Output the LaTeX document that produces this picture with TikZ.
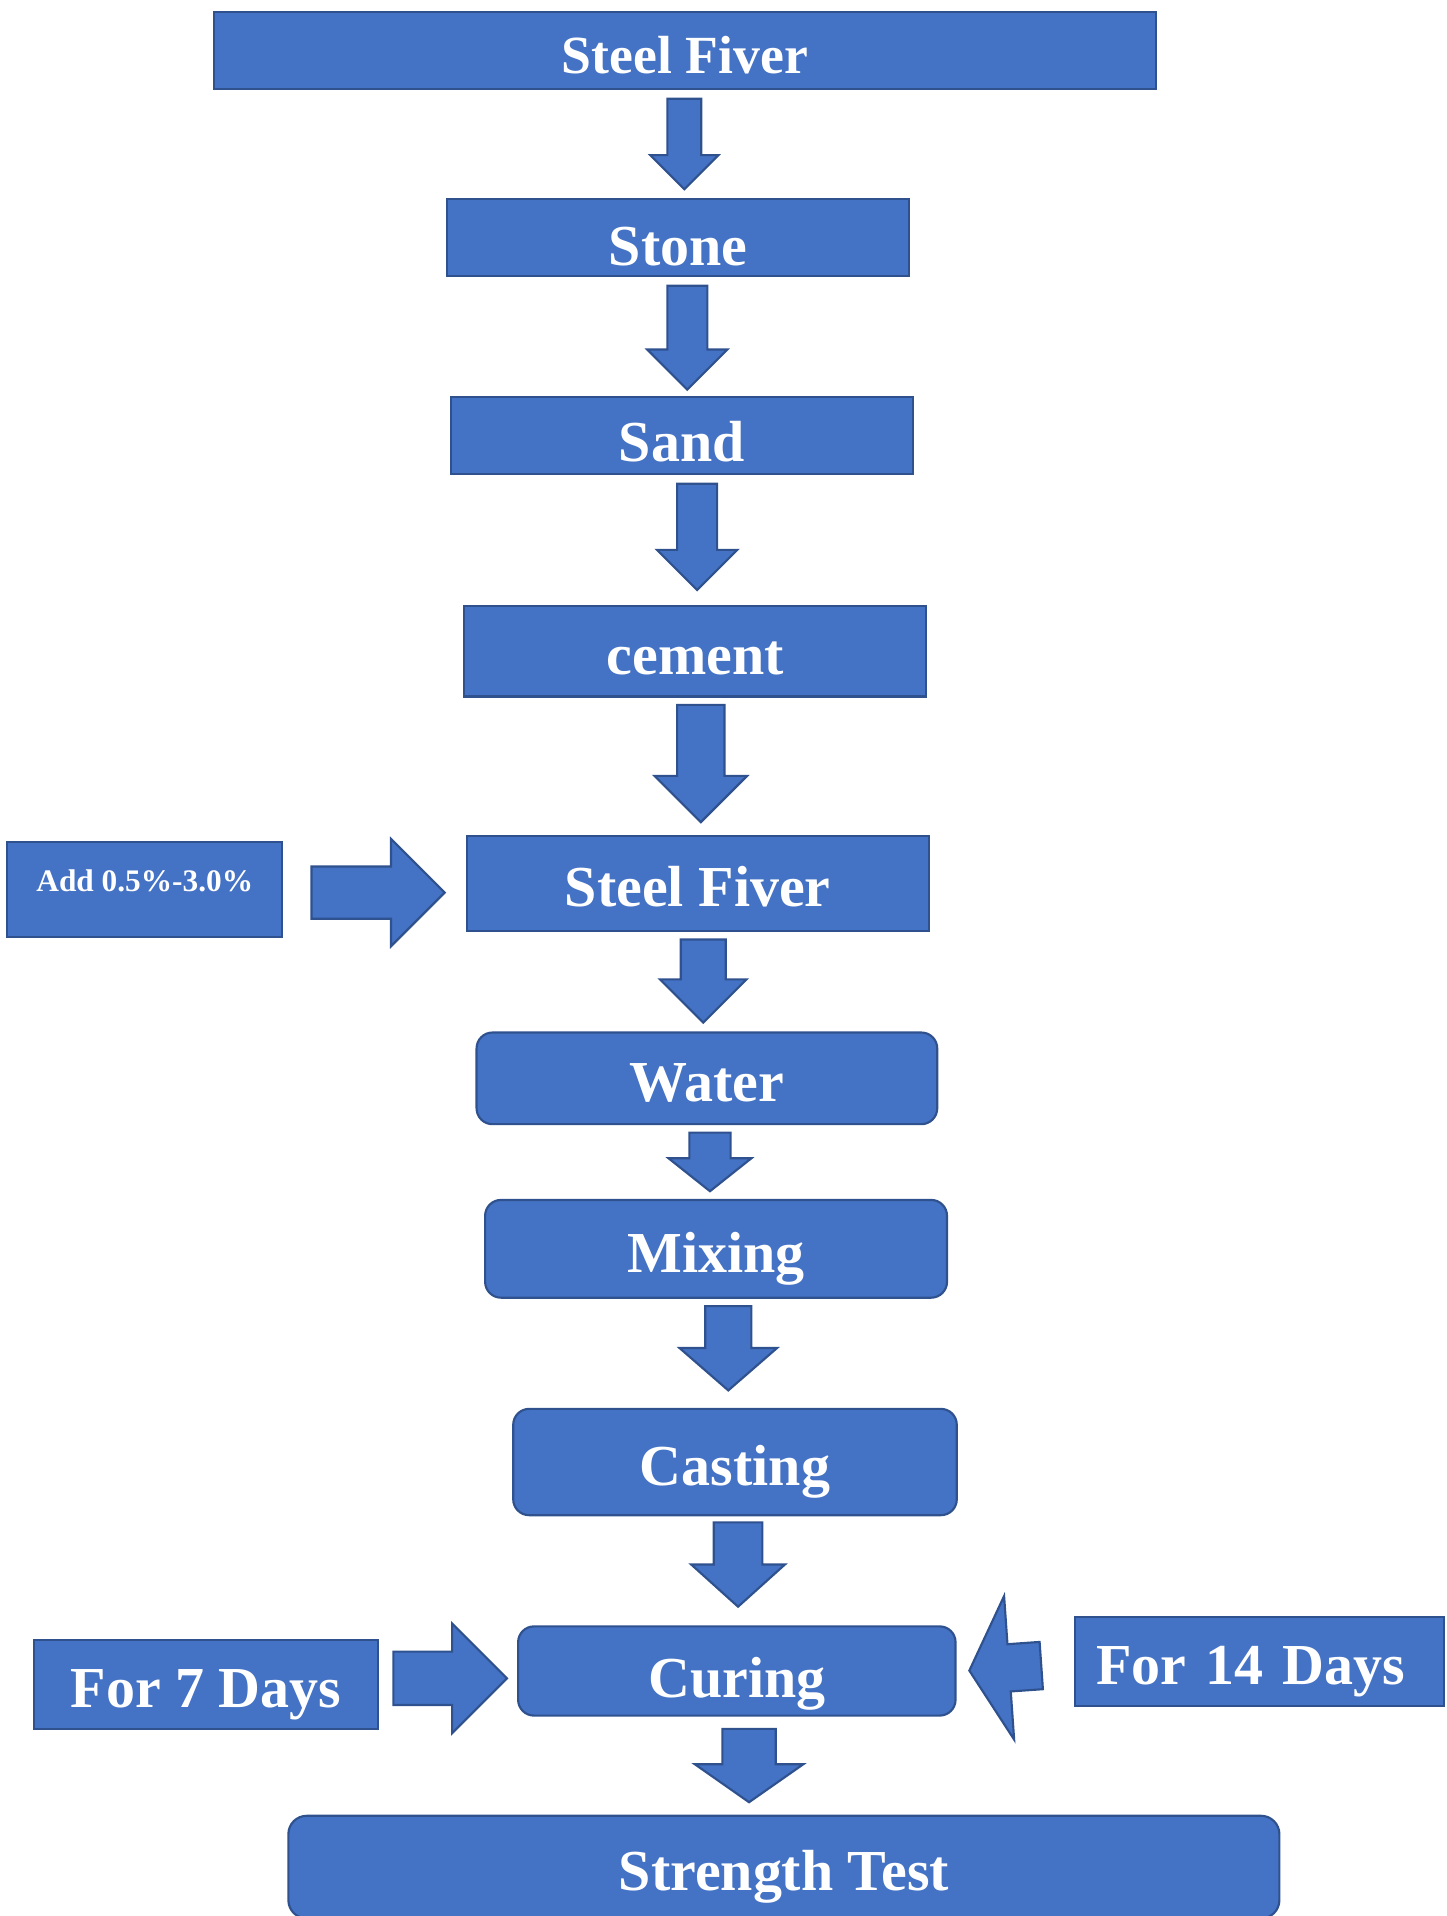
\documentclass[tikz,border=0pt]{standalone}
\usepackage{fontspec}
\setmainfont{Liberation Serif}
\usetikzlibrary{shapes.arrows}
\definecolor{boxfill}{HTML}{4472C4}
\definecolor{boxline}{HTML}{2F528F}

\begin{document}
\begin{tikzpicture}[rect/.style={draw=boxline, fill=boxfill, line width=0.5pt,
                                 text=white, inner sep=0pt,
                                 font=\bfseries\fontsize{13.5}{16}\selectfont,
                                 text height=0.46cm, text depth=0.08cm},
                    round/.style={rect, rounded corners=1.3mm},
                    blockarrow/.style={single arrow, draw=boxline, fill=boxfill,
                                       line width=0.5pt, inner xsep=0pt,
                                       anchor=tail, single arrow tip angle=90},
                    dnarrow/.style={blockarrow, rotate=-90}]
    \useasboundingbox (0,0) rectangle (11.84,15.68);

    % chain of materials
    \node[rect, minimum width=7.71cm, minimum height=0.63cm,
          font=\bfseries\fontsize{12.5}{15}\selectfont] (fiverTop) at (5.605,15.265) {Steel Fiver};
    \node[rect, minimum width=3.78cm, minimum height=0.63cm,
          text height=0.54cm] (stone) at (5.55,13.735) {Stone};
    \node[rect, minimum width=3.78cm, minimum height=0.63cm,
          text height=0.50cm] (sand) at (5.58,12.115) {Sand};
    \node[rect, minimum width=3.78cm, minimum height=0.74cm] (cement) at (5.69,10.35) {cement};
    \node[rect, minimum width=3.78cm, minimum height=0.78cm] (fiver) at (5.71,8.45) {Steel Fiver};
    \node[rect, minimum width=2.25cm, minimum height=0.78cm,
          font=\bfseries\fontsize{7.3}{9}\selectfont,
          text height=0.13cm, text depth=0.10cm] (add) at (1.185,8.40) {Add 0.5\%-3.0\%};

    % process
    \node[round, minimum width=3.77cm, minimum height=0.75cm] (water) at (5.785,6.855) {Water};
    \node[round, minimum width=3.78cm, minimum height=0.80cm] (mixing) at (5.86,5.46) {Mixing};
    \node[round, minimum width=3.63cm, minimum height=0.87cm] (casting) at (6.015,3.715) {Casting};
    \node[round, minimum width=3.58cm, minimum height=0.73cm,
          text height=0.52cm] (curing) at (6.03,2.005) {Curing};
    \node[rect, minimum width=2.81cm, minimum height=0.73cm] (days7) at (1.685,1.895) {For 7 Days};
    \node[rect, minimum width=3.02cm, minimum height=0.73cm,
          text width=2.68cm, align=left] (days14) at (10.31,2.085) {For 14 Days};
    \node[round, rounded corners=1.5mm, minimum width=8.11cm,
          minimum height=0.84cm] (strength) at (6.415,0.40) {Strength Test};

    % arrows down
    \node[dnarrow, minimum height=0.74cm, minimum width=0.54cm, inner ysep=0.13cm,
          single arrow head extend=0.14cm] (a1) at (5.60,14.88) {};
    \node[dnarrow, minimum height=0.85cm, minimum width=0.64cm, inner ysep=0.155cm,
          single arrow head extend=0.165cm] (a2) at (5.625,13.35) {};
    \node[dnarrow, minimum height=0.87cm, minimum width=0.64cm, inner ysep=0.155cm,
          single arrow head extend=0.165cm] (a3) at (5.705,11.73) {};
    \node[dnarrow, minimum height=0.96cm, minimum width=0.74cm, inner ysep=0.185cm,
          single arrow head extend=0.185cm] (a4) at (5.735,9.92) {};
    \node[dnarrow, minimum height=0.68cm, minimum width=0.69cm, inner ysep=0.175cm,
          single arrow head extend=0.17cm] (a5) at (5.755,8.00) {};
    \node[dnarrow, minimum height=0.48cm, minimum width=0.66cm, inner ysep=0.16cm,
          single arrow head extend=0.17cm, single arrow tip angle=103] (a6) at (5.81,6.42) {};
    \node[dnarrow, minimum height=0.69cm, minimum width=0.78cm, inner ysep=0.18cm,
          single arrow head extend=0.21cm, single arrow tip angle=98] (a7) at (5.96,5.00) {};
    \node[dnarrow, minimum height=0.69cm, minimum width=0.75cm, inner ysep=0.19cm,
          single arrow head extend=0.185cm, single arrow tip angle=96] (a8) at (6.04,3.23) {};
    \node[dnarrow, minimum height=0.60cm, minimum width=0.87cm, inner ysep=0.21cm,
          single arrow head extend=0.225cm, single arrow tip angle=110] (a9) at (6.13,1.54) {};

    % arrows from the side
    \node[blockarrow, minimum height=1.09cm, minimum width=0.86cm, inner ysep=0.205cm,
          single arrow head extend=0.225cm] (addArrow) at (2.54,8.375) {};
    \node[blockarrow, minimum height=0.93cm, minimum width=0.88cm, inner ysep=0.21cm,
          single arrow head extend=0.23cm] (days7Arrow) at (3.21,1.945) {};
    \node[blockarrow, rotate=184, minimum height=0.59cm, minimum width=1.16cm,
          inner ysep=0.185cm, single arrow head extend=0.395cm,
          single arrow tip angle=122] (days14Arrow) at (8.53,2.05) {};
\end{tikzpicture}
\end{document}
